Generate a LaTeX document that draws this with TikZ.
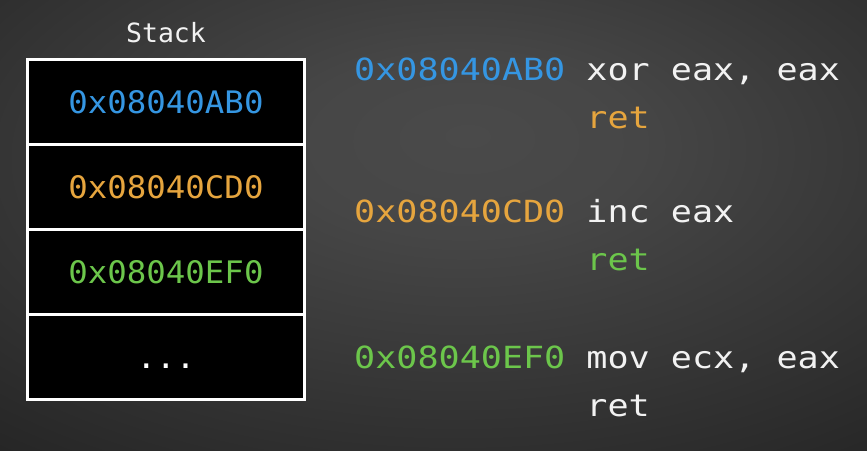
\documentclass[tikz,border=0pt]{standalone}
\usepackage{fontspec}
\setmonofont{DejaVu Sans Mono}
\newfontfamily\leftmono[FakeStretch=1.045]{DejaVu Sans Mono}
\newfontfamily\rightmono[FakeStretch=1.15]{DejaVu Sans Mono}
\definecolor{bgin}{HTML}{4A4A4A}
\definecolor{bgout}{HTML}{1A1A1A}
\definecolor{addrblue}{HTML}{3596E2}
\definecolor{addrorange}{HTML}{E6A53E}
\definecolor{addrgreen}{HTML}{6CC64B}
\definecolor{txtwhite}{HTML}{F2F2F2}
\pgfdeclareradialshading{bgshade}{\pgfpoint{2bp}{10bp}}{color(0bp)=(bgin); color(10bp)=(bgin!92!bgout); color(52bp)=(bgout); color(100bp)=(bgout)}
\tikzset{
  cell/.style={draw=white, fill=black, line width=3pt, minimum width=277pt, minimum height=85pt, inner sep=0pt, outer sep=0pt, font=\leftmono\fontsize{31}{31}\selectfont},
  title/.style={inner sep=0pt, text=txtwhite, font=\ttfamily\fontsize{26.5}{26.5}\selectfont},
  code/.style={inner sep=0pt, anchor=base west, align=left, text=txtwhite, font=\rightmono\fontsize{30.5}{48}\selectfont}
}
\begin{document}
\begin{tikzpicture}[x=1pt,y=-1pt]
\useasboundingbox (0,0) rectangle (867,450);
\shade[shading=bgshade] (0,0) rectangle (867,450);
\node[title, anchor=base] (stacklabel) at (166,42) {Stack};
\node[cell, text=addrblue] (c1) at (166,102) {0x08040AB0};
\node[cell, text=addrorange] (c2) at (166,187) {0x08040CD0};
\node[cell, text=addrgreen] (c3) at (166,272) {0x08040EF0};
\node[cell, text=white] (c4) at (166,357) {\vphantom{0}...};
\node[code] (g1) at (354,128) {{\color{addrblue}0x08040AB0} xor eax, eax\\\hphantom{0x08040AB0\ }{\color{addrorange}ret}};
\node[code] (g2) at (354,270) {{\color{addrorange}0x08040CD0} inc eax\\\hphantom{0x08040CD0\ }{\color{addrgreen}ret}};
\node[code] (g3) at (354,416) {{\color{addrgreen}0x08040EF0} mov ecx, eax\\\hphantom{0x08040EF0\ }ret};
\end{tikzpicture}
\end{document}
